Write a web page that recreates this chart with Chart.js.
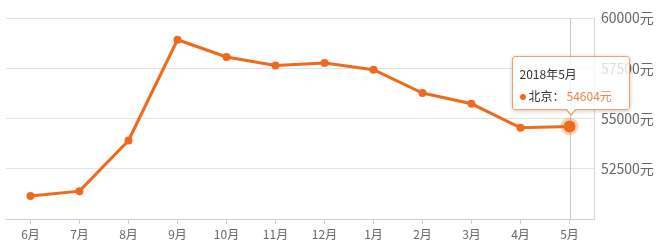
<!DOCTYPE html>
<html><head><meta charset="utf-8">
<script src="https://cdn.jsdelivr.net/npm/chart.js@4/dist/chart.umd.min.js"></script>
<style>
html,body{margin:0;padding:0;background:#fff;}
#wrap{position:relative;width:663px;height:252px;overflow:hidden;}
#tip{position:absolute;display:none;box-sizing:border-box;width:118px;padding:6px 6px 2px 7px;
 background:rgba(255,255,255,0.78);border:1px solid #f2a066;border-radius:3px;
 box-shadow:0 1px 4px rgba(0,0,0,0.22);font:12px "Noto Sans CJK SC","Noto Sans",sans-serif;color:#333;white-space:nowrap;}
#tip .t{line-height:22px;}
#tip .r{line-height:22px;}
#tip .dot{display:inline-block;width:6px;height:6px;border-radius:50%;background:#ee6a1e;margin-right:3px;vertical-align:middle;position:relative;top:-1px;}
#tip .v{color:#e9844d;margin-left:2px;}
#tip:before,#tip:after{content:"";position:absolute;left:52px;width:0;height:0;border-style:solid;}
#tip:before{bottom:-7px;border-width:7px 6px 0 6px;border-color:#f2a066 transparent transparent transparent;}
#tip:after{bottom:-5px;left:53px;border-width:6px 5px 0 5px;border-color:#fff transparent transparent transparent;}
</style></head><body>
<div id="wrap"><canvas id="c" width="663" height="252"></canvas><div id="tip"></div></div>
<script>
const months = ['6月','7月','8月','9月','10月','11月','12月','1月','2月','3月','4月','5月'];
const beijing = [51150, 51385, 53904, 58919, 58058, 57639, 57759, 57425, 56265, 55732, 54537, 54604];
const yTicks = [50000, 52500, 55000, 57500, 60000];
const seriesName = '北京';
const unit = '元';
const tipTitle = '2018年5月';
const activeIndex = months.length - 1;

const lineColor = 'rgb(238,106,30)';
const fontFam = '"Noto Sans CJK SC","Noto Sans",sans-serif';

const hoverLine = {
  id: 'hoverLine',
  beforeDatasetsDraw(chart) {
    const {ctx, chartArea, scales} = chart;
    const x = Math.round(scales.x.getPixelForValue(activeIndex)) + 0.5;
    ctx.save();
    ctx.strokeStyle = '#c8c8c8';
    ctx.lineWidth = 1;
    ctx.beginPath();
    ctx.moveTo(x, chartArea.top);
    ctx.lineTo(x, chartArea.bottom);
    ctx.stroke();
    ctx.restore();
  }
};

const chart = new Chart(document.getElementById('c'), {
  type: 'line',
  data: {
    labels: months,
    datasets: [{
      label: seriesName,
      data: beijing,
      borderColor: lineColor,
      backgroundColor: lineColor,
      borderWidth: 3,
      pointRadius: 4,
      pointBackgroundColor: lineColor,
      pointBorderColor: lineColor,
      pointBorderWidth: 0,
      pointHoverRadius: 6,
      pointHoverBackgroundColor: lineColor,
      pointHoverBorderColor: 'rgba(238,106,30,0.3)',
      pointHoverBorderWidth: 6,
      tension: 0,
      fill: false
    }]
  },
  options: {
    responsive: false,
    animation: false,
    events: [],
    layout: { padding: { left: 1, top: 18, right: 0, bottom: 0 } },
    plugins: {
      legend: { display: false },
      tooltip: {
        enabled: false,
        external(context) {
          const tt = context.tooltip;
          const el = document.getElementById('tip');
          if (!tt || tt.opacity === 0 || !tt.dataPoints || !tt.dataPoints.length) { el.style.display = 'none'; return; }
          const dp = tt.dataPoints[0];
          el.innerHTML = '<div class="t">' + tipTitle + '</div>' +
            '<div class="r"><span class="dot"></span>' + dp.dataset.label + '：<span class="v">' + dp.raw + unit + '</span></div>';
          el.style.display = 'block';
          el.style.left = (tt.caretX - 58) + 'px';
          el.style.top = (tt.caretY - 16 - el.offsetHeight) + 'px';
        }
      }
    },
    scales: {
      x: {
        offset: true,
        grid: { display: true, offset: false, drawOnChartArea: false, drawTicks: true, tickLength: 5, color: '#cfcfcf' },
        border: { display: true, color: '#cfcfcf' },
        ticks: { color: '#666', font: { family: fontFam, size: 12 }, padding: 3, maxRotation: 0, autoSkip: false },
        afterFit(s) { s.height = 33; s.paddingLeft = 0; s.paddingRight = 0; }
      },
      y: {
        position: 'right',
        min: yTicks[0],
        max: yTicks[yTicks.length - 1],
        afterBuildTicks(s) { s.ticks = yTicks.map(v => ({ value: v })); },
        grid: { color: '#e2e2e2', drawTicks: false, tickLength: 0 },
        border: { display: true, color: '#d6d6d6' },
        ticks: {
          color: '#666', font: { family: fontFam, size: 14 }, padding: 7,
          callback: v => v === yTicks[0] ? '' : v + unit
        },
        afterFit(s) { s.width = 69; }
      }
    }
  },
  plugins: [hoverLine]
});

const act = [{ datasetIndex: 0, index: activeIndex }];
chart.setActiveElements(act);
const pt = chart.getDatasetMeta(0).data[activeIndex];
chart.tooltip.setActiveElements(act, { x: pt.x, y: pt.y });
chart.update('none');
</script>
</body></html>
